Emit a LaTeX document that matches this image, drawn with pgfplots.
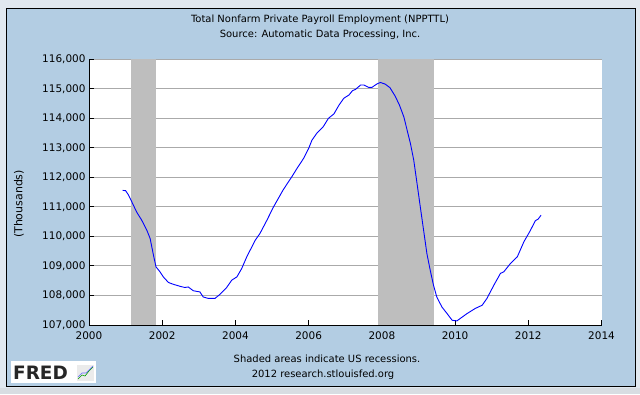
\documentclass[border=0pt]{standalone}
\usepackage{pgfplots}
\pgfplotsset{compat=1.18}
\usepackage{fontspec}
\setmainfont{DejaVu Sans}
\definecolor{outergray}{HTML}{E1E8EF}
\definecolor{bottomgray}{HTML}{D8DDE2}
\definecolor{panelblue}{HTML}{B3CDE3}
\definecolor{recgray}{HTML}{BEBEBE}
\definecolor{gridgray}{HTML}{AAAAAA}
\begin{document}
\begin{tikzpicture}
\begin{scope}[x=1bp,y=1bp]
\fill[outergray] (0,0) rectangle (640,394);
\fill[bottomgray] (0,0) rectangle (640,6);
\fill[panelblue] (6.7,7.7) rectangle (635.3,385.7);
\draw[black,line width=1.5bp] (6.7,7.7) rectangle (635.3,385.7);
\node[anchor=base,font=\fontsize{10}{12}\selectfont] at (320,372) {Total Nonfarm Private Payroll Employment (NPPTTL)};
\node[anchor=base,font=\fontsize{10}{12}\selectfont] at (320,357) {Source: Automatic Data Processing, Inc.};
\node[anchor=base,font=\fontsize{10}{12}\selectfont] at (327,32) {Shaded areas indicate US recessions.};
\node[anchor=base,font=\fontsize{10}{12}\selectfont] at (323,17) {2012 research.stlouisfed.org};
\node[rotate=90,font=\fontsize{11}{12}\selectfont] at (19,190) {(Thousands)};
% FRED logo
\fill[white] (11,11) rectangle (96,33);
\node[anchor=base west,inner sep=0pt,font=\bfseries\fontsize{18.5}{19}\selectfont,text=black!85] at (13,15) {FRED};
\fill[black!8] (77,13) rectangle (94,29);
\draw[green!60!black,line width=0.6bp] (78,15) -- (82,19) -- (85,18) -- (89,23) -- (93,27);
\draw[blue!60,line width=0.6bp] (78,17) -- (82,21) -- (86,21) -- (90,25) -- (93,28);
\end{scope}
\begin{axis}[
  at={(89bp,69bp)}, anchor=south west,
  scale only axis, width=512.5bp, height=265.7bp,
  xmin=2000, xmax=2014, ymin=107000, ymax=116000,
  axis x line*=bottom, axis y line*=left,
  axis line style={black,line width=1bp},
  xtick={2000,2002,...,2014},
  ytick={107000,108000,...,116000},
  scaled y ticks=false,
  tick align=inside, major tick length=5bp,
  tick style={black,line width=1bp},
  ymajorgrids, grid style={gridgray,line width=1bp},
  axis background/.style={fill=white},
  ticklabel style={font=\fontsize{10.5}{12}\selectfont},
  /pgf/number format/assume math mode=true,
  yticklabel style={/pgf/number format/1000 sep={,},/pgf/number format/fixed},
  xticklabel style={/pgf/number format/1000 sep={},yshift=-3bp},
  clip=true,
]
\addplot[fill=recgray,draw=none] coordinates {(2001.15,107000) (2001.83,107000) (2001.83,116000) (2001.15,116000)} -- cycle;
\addplot[fill=recgray,draw=none] coordinates {(2007.90,107000) (2009.43,107000) (2009.43,116000) (2007.90,116000)} -- cycle;
\addplot[blue,line width=0.9bp] coordinates {
(2000.92,111560) (2001.00,111550) (2001.08,111400) (2001.17,111170) (2001.30,110830)
(2001.44,110550) (2001.58,110210) (2001.67,109930) (2001.76,109370) (2001.83,108970)
(2001.94,108800) (2002.03,108630) (2002.17,108440) (2002.30,108380) (2002.49,108310)
(2002.62,108270) (2002.71,108290) (2002.85,108160) (2003.03,108120) (2003.12,107950)
(2003.26,107900) (2003.44,107900) (2003.58,108040) (2003.76,108270) (2003.90,108520)
(2004.04,108630) (2004.17,108910) (2004.31,109310) (2004.54,109870) (2004.67,110100)
(2004.86,110550) (2005.04,111000) (2005.31,111590) (2005.54,112020) (2005.68,112300)
(2005.86,112640) (2006.00,112980) (2006.09,113260) (2006.22,113490) (2006.40,113720)
(2006.54,114000) (2006.69,114150) (2006.83,114450) (2006.96,114680) (2007.10,114790)
(2007.20,114940) (2007.28,114980) (2007.42,115130) (2007.51,115130) (2007.64,115050)
(2007.73,115050) (2007.87,115170) (2007.96,115215) (2008.09,115160) (2008.22,115040)
(2008.36,114760) (2008.48,114450) (2008.60,114050) (2008.69,113600) (2008.78,113150)
(2008.87,112590) (2008.96,111800) (2009.05,111000) (2009.14,110210) (2009.23,109420)
(2009.32,108860) (2009.41,108350) (2009.50,107950) (2009.64,107610) (2009.78,107390)
(2009.92,107160) (2010.05,107140) (2010.14,107220) (2010.33,107390) (2010.55,107560)
(2010.74,107670) (2010.87,107900) (2011.06,108350) (2011.24,108750) (2011.33,108800)
(2011.51,109080) (2011.70,109310) (2011.88,109820) (2012.06,110210) (2012.19,110530)
(2012.27,110590) (2012.35,110720)
};
\end{axis}
\end{tikzpicture}
\end{document}
